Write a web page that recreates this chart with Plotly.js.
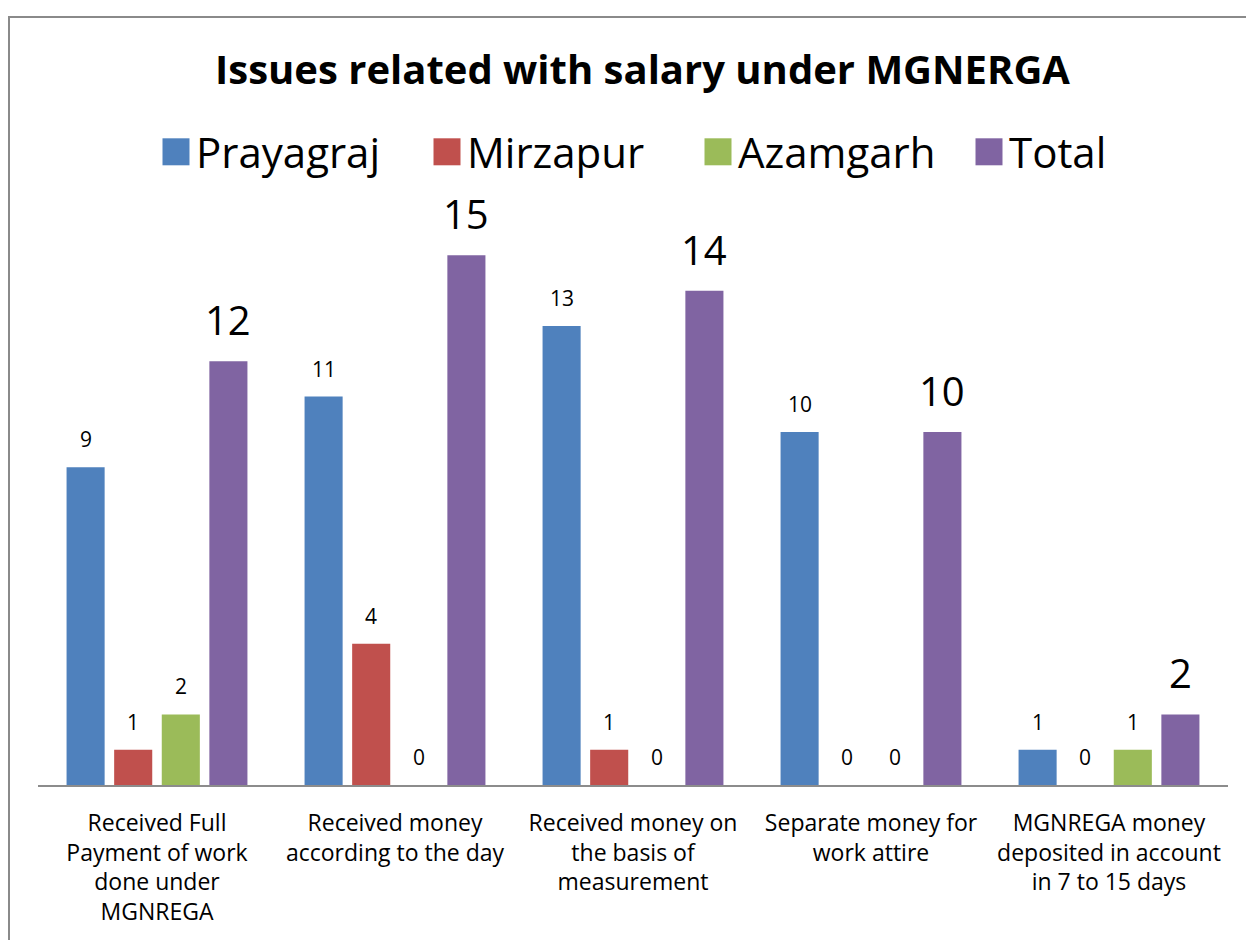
<!DOCTYPE html>
<html>
<head>
<meta charset="utf-8">
<script src="https://cdn.plot.ly/plotly-3.0.1.min.js"></script>
<style>
  html, body { margin: 0; padding: 0; background: #fff; overflow: hidden; }
  #wrap { position: relative; width: 1246px; height: 940px; overflow: hidden; }
  #chart { position: absolute; left: 0; top: 0; width: 1246px; height: 940px; }
  #frame { position: absolute; left: 8px; top: 16px; width: 1300px; height: 1000px;
           border: 2px solid #8a8a8a; box-sizing: border-box; pointer-events: none; }
</style>
</head>
<body>
<div id="wrap">
  <div id="chart"></div>
  <div id="frame"></div>
</div>
<script>
// ---- data ----
const categories = [
  "Received Full Payment of work done under MGNREGA",
  "Received money according to the day",
  "Received money on the basis of measurement",
  "Separate money for work attire",
  "MGNREGA money deposited in account in 7 to 15 days"
];
const tickLabels = [
  "Received Full<br>Payment of work<br>done under<br>MGNREGA",
  "Received money<br>according to the day",
  "Received money on<br>the basis of<br>measurement",
  "Separate money for<br>work attire",
  "MGNREGA money<br>deposited in account<br>in 7 to 15 days"
];
const seriesNames = ["Prayagraj", "Mirzapur", "Azamgarh", "Total"];
const prayagraj = [9, 11, 13, 10, 1];
const mirzapur  = [1, 4, 1, 0, 0];
const azamgarh  = [2, 0, 0, 0, 1];
const total     = [12, 15, 14, 10, 2];
const seriesValues = [prayagraj, mirzapur, azamgarh, total];
const colors = ["#4F81BD", "#C0504D", "#9BBB59", "#8064A2"];

// ---- layout constants ----
const W = 1246, H = 940;
const margin = {l: 38, r: 18, t: 220, b: 155};
const bargap = 0.2, bargroupgap = 0.2;
const FONT = "Open Sans, Noto Sans, sans-serif";

const traces = seriesValues.map((vals, i) => ({
  type: "bar",
  name: seriesNames[i],
  x: categories,
  y: vals,
  marker: {color: colors[i]},
  hoverinfo: "x+y+name"
}));

// data labels positioned from the data through the axes
const plotW = W - margin.l - margin.r;
const band = plotW / categories.length;
const slot = band * (1 - bargap) / seriesNames.length;
const annotations = [];
seriesValues.forEach((vals, i) => {
  const isTotal = seriesNames[i] === "Total";
  vals.forEach((v, j) => {
    annotations.push({
      x: categories[j], y: v, xref: "x", yref: "y",
      xshift: (i - (seriesNames.length - 1) / 2) * slot,
      yshift: 12,
      yanchor: "bottom", xanchor: "center",
      text: String(v), showarrow: false,
      font: {family: FONT, size: isTotal ? 40 : 21, color: "#000"}
    });
  });
});

const layout = {
  width: W, height: H,
  margin: margin,
  paper_bgcolor: "#fff", plot_bgcolor: "#fff",
  font: {family: FONT, color: "#000"},
  title: {
    text: "<b>Issues related with salary under MGNERGA</b>",
    font: {family: FONT, size: 40, color: "#000"},
    x: 0.508, xanchor: "center", xref: "paper",
    y: 1 - 70 / H, yanchor: "middle", yref: "container"
  },
  showlegend: true,
  legend: {
    orientation: "h",
    x: (156 - margin.l) / plotW, xanchor: "left", xref: "paper",
    y: 1 - 152 / H, yanchor: "middle", yref: "container",
    font: {family: FONT, size: 42, color: "#000"},
    entrywidth: 226, entrywidthmode: "pixels",
    traceorder: "normal", bgcolor: "rgba(0,0,0,0)"
  },
  barmode: "group",
  bargap: bargap, bargroupgap: bargroupgap,
  xaxis: {
    type: "category",
    tickvals: categories, ticktext: tickLabels,
    showline: true, linecolor: "#8c8c8c", linewidth: 2,
    showgrid: false, zeroline: false, ticks: "",
    ticklabelstandoff: 16,
    tickfont: {family: FONT, size: 23, color: "#000"},
    fixedrange: true
  },
  yaxis: {
    range: [0, 16], visible: false, showgrid: false, zeroline: false, fixedrange: true
  },
  annotations: annotations
};

Plotly.newPlot("chart", traces, layout, {displayModeBar: false, staticPlot: true}).then(() => {
  document.querySelectorAll("#chart .legend .legendpoints path").forEach(p => {
    const t = p.getAttribute("transform") || "";
    p.setAttribute("transform", t + " scale(2.25)");
  });
});
</script>
</body>
</html>
